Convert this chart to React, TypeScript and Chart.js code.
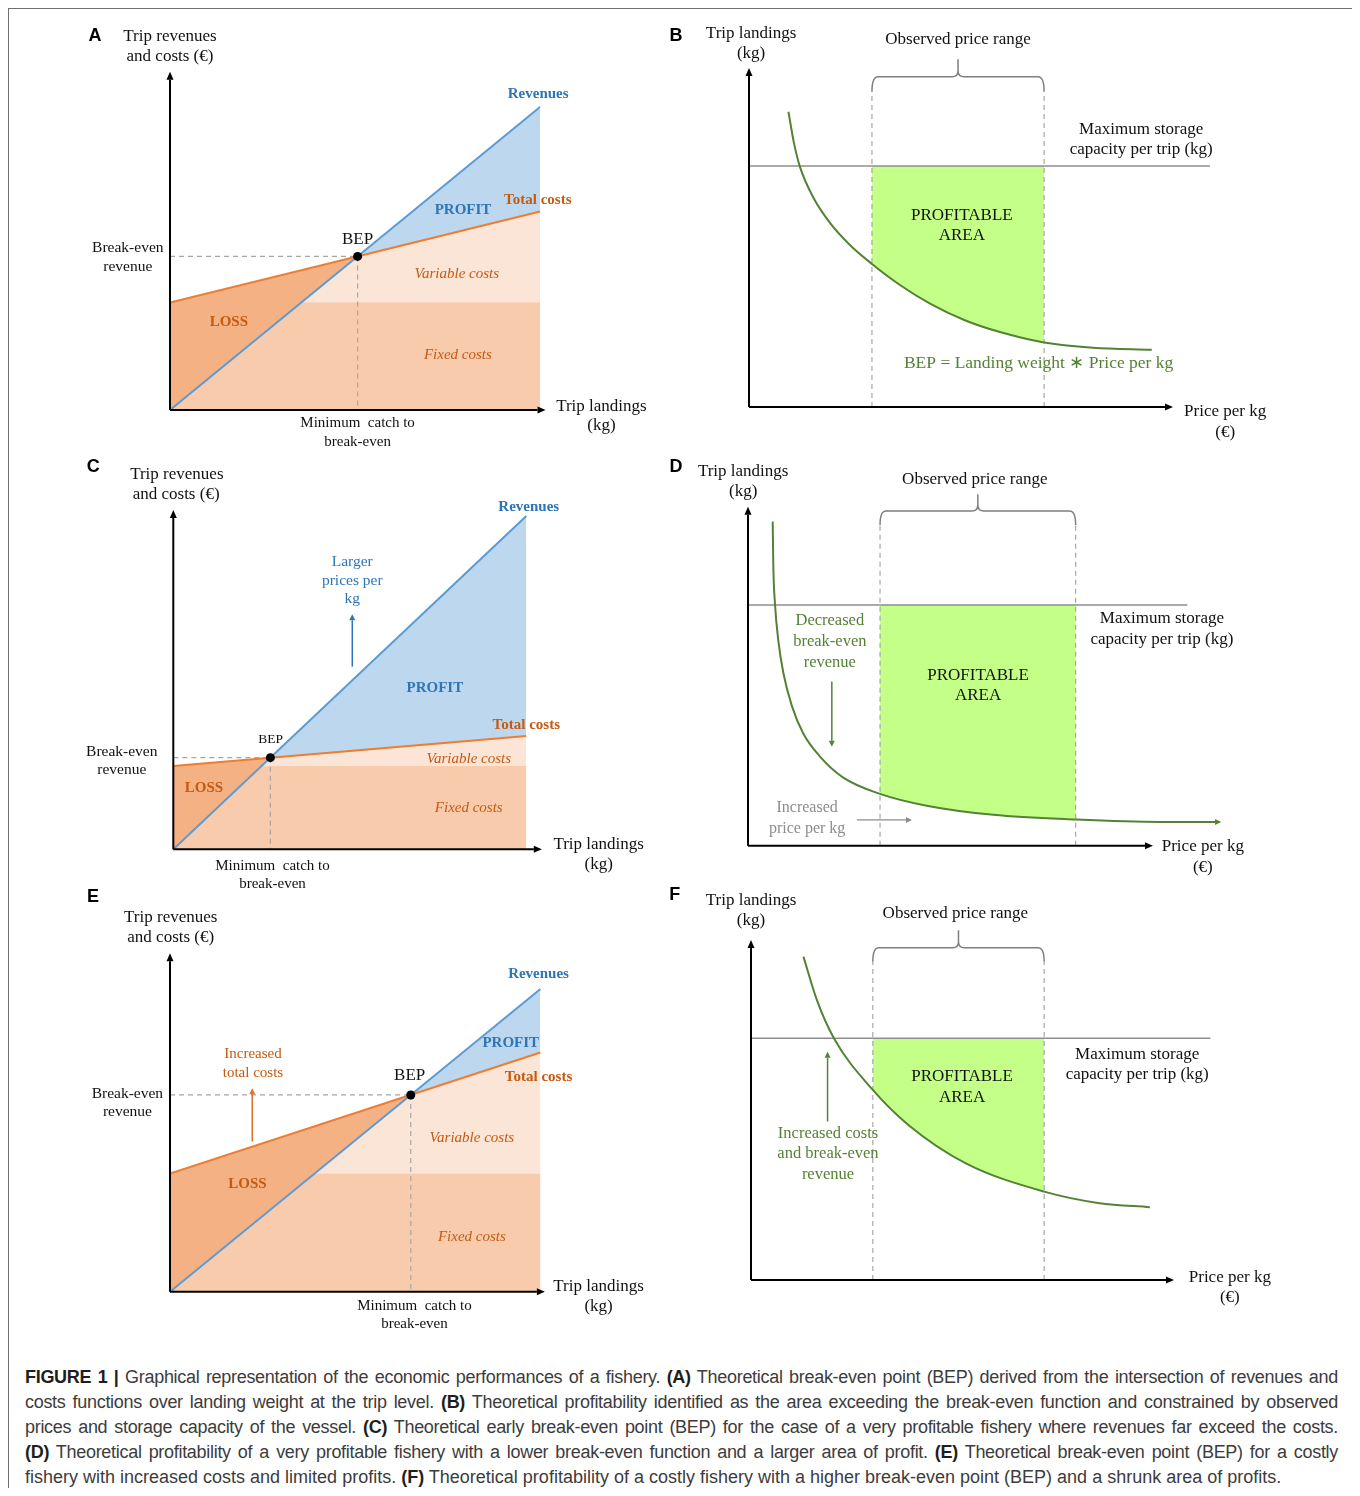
import React, { useEffect, useRef } from "react";
import { Chart, registerables } from "chart.js";

Chart.register(...registerables);

const SERIF = '"Liberation Serif", "Times New Roman", serif';
const SANS = '"Liberation Sans", Arial, Helvetica, sans-serif';

const C_REV = "#5B9BD5";
const C_COST = "#ED7D31";
const C_PROFIT = "#BDD7EE";
const C_LOSS = "#F4B183";
const C_FIXED = "#F8CBAD";
const C_VAR = "#FBE5D6";
const T_BLUE = "#2E75B6";
const T_ORANGE = "#C55A11";
const C_GREEN = "#548235";
const C_AREA = "#C4FF88";
const C_DASH = "#A6A6A6";
const C_STORAGE = "#8E8E8E";
const C_TEXT = "#111111";

// ---------- Break-even panels (A, C, E): x = trip landings, y = revenues / costs ----------
const landingEnds = [0, 100];

const revenuesA = [0, 100];
const totalCostsA = [35.5, 65.5];
const fixedCostsA = [35.5, 35.5];
const bepA = [50.7, 50.7];

const revenuesC = [0, 100];
const totalCostsC = [25, 34];
const fixedCostsC = [25, 25];
const bepC = [27.5, 27.5];

const revenuesE = [0, 100];
const totalCostsE = [39, 79];
const fixedCostsE = [39, 39];
const bepE = [65, 65];

// ---------- Profitability panels (B, D, F): x = price per kg, y = trip landings ----------
const priceB = [0.93, 1.06, 1.2, 1.52, 1.91, 2.38, 2.9, 3.56, 4.27, 5.09, 5.92, 6.93, 8.11, 9.5];
const breakEvenB = [8.71, 7.79, 7.09, 6.17, 5.43, 4.78, 4.22, 3.6, 3.05, 2.56, 2.21, 1.91, 1.75, 1.69];
const observedB = [2.9, 6.96];
const storageB = 7.11;
const storageEndB = 10.87;

const priceD = [0.61, 0.625, 0.667, 0.748, 0.872, 1.079, 1.365, 1.778, 2.353, 3.259, 4.412, 6.057, 8.099, 10.17, 11.65];
const breakEvenD = [9.56, 8.26, 7.12, 6.06, 5.1, 4.14, 3.31, 2.63, 2.01, 1.53, 1.18, 0.91, 0.77, 0.7, 0.7];
const observedD = [3.26, 8.09];
const storageD = 7.1;
const storageEndD = 10.85;

const priceF = [1.24, 1.55, 1.96, 2.88, 3.72, 5.08, 6.93, 8.24, 9.43];
const breakEvenF = [9.51, 8.26, 7.11, 5.59, 4.56, 3.43, 2.6, 2.26, 2.14];
const observedF = [2.88, 6.93];
const storageF = 7.11;
const storageEndF = 10.86;

// ---------- Layout (page pixels) ----------
const GEO: Record<string, any> = {
  A: { box: [20, 12, 640, 443], origin: [170, 410], unit: [3.7, 3.03], max: [115, 112] },
  B: { box: [662, 12, 680, 443], origin: [749, 407], unit: [42.4, 33.9], max: [11.5, 10.5] },
  C: { box: [20, 455, 640, 440], origin: [173.3, 849.3], unit: [3.53, 3.333], max: [110, 105] },
  D: { box: [662, 455, 680, 432], origin: [748, 845.7], unit: [40.5, 33.9], max: [12, 10.5] },
  E: { box: [20, 885, 640, 460], origin: [170, 1291.7], unit: [3.704, 3.027], max: [110, 115] },
  F: { box: [662, 887, 680, 458], origin: [751, 1280], unit: [42.3, 34], max: [11.5, 10.5] },
};

const STY: Record<string, any> = {
  letter: { size: 18, weight: "bold", family: SANS, color: "#000" },
  axis: { size: 17, color: C_TEXT },
  side: { size: 15.5, color: C_TEXT },
  under: { size: 15, color: C_TEXT },
  bep: { size: 17, color: C_TEXT },
  bepSmall: { size: 13.5, color: C_TEXT },
  blueBold: { size: 15, weight: "bold", color: T_BLUE },
  orangeBold: { size: 15, weight: "bold", color: T_ORANGE },
  part: { size: 15, style: "italic", color: T_ORANGE },
  noteBlue: { size: 15.5, color: T_BLUE },
  noteOrange: { size: 15, color: T_ORANGE },
  area: { size: 17, color: C_TEXT },
  green: { size: 16.5, color: C_GREEN },
  bepEq: { size: 17.5, color: C_GREEN },
  gray: { size: 16, color: "#8C8C8C" },
};

const L = (t: string, x: number, y: number, s: string) => ({ t, x, y, s });
const pts = (xs: number[], ys: number[]) => xs.map((x, i) => ({ x, y: ys[i] }));

function costDatasets(rev: number[], total: number[], fixed: number[], bep: number[]) {
  return [
    {
      data: pts(landingEnds, rev),
      borderColor: C_REV,
      borderWidth: 2,
      fill: { target: 2, above: C_PROFIT, below: C_LOSS },
      order: 1,
    },
    {
      data: pts(landingEnds, fixed),
      borderColor: "rgba(0,0,0,0)",
      borderWidth: 1,
      backgroundColor: C_FIXED,
      fill: "origin",
      order: 2,
    },
    {
      data: pts(landingEnds, total),
      borderColor: C_COST,
      borderWidth: 2,
      backgroundColor: C_VAR,
      fill: "origin",
      order: 3,
    },
    {
      data: [{ x: 0, y: bep[1] }, { x: bep[0], y: bep[1] }],
      borderColor: C_DASH,
      borderWidth: 1.2,
      borderDash: [5, 4],
      order: 4,
    },
    {
      data: [{ x: bep[0], y: bep[1] }, { x: bep[0], y: 0 }],
      borderColor: C_DASH,
      borderWidth: 1.2,
      borderDash: [5, 4],
      order: 4,
    },
    {
      data: [{ x: bep[0], y: bep[1] }],
      showLine: false,
      pointRadius: 4.5,
      pointBackgroundColor: "#000",
      pointBorderColor: "#000",
      pointBorderWidth: 0,
      order: 0,
    },
  ];
}

function priceDatasets(px: number[], py: number[], storage: number, storageEnd: number, observed: number[], top: number) {
  return [
    {
      data: pts(px, py),
      borderColor: C_GREEN,
      borderWidth: 2,
      cubicInterpolationMode: "monotone",
      order: 1,
    },
    {
      data: [{ x: 0, y: storage }, { x: storageEnd, y: storage }],
      borderColor: C_STORAGE,
      borderWidth: 1.5,
      order: 2,
    },
    {
      data: [{ x: observed[0], y: 0 }, { x: observed[0], y: top }],
      borderColor: C_DASH,
      borderWidth: 1.2,
      borderDash: [5, 4],
      order: 3,
    },
    {
      data: [{ x: observed[1], y: 0 }, { x: observed[1], y: top }],
      borderColor: C_DASH,
      borderWidth: 1.2,
      borderDash: [5, 4],
      order: 3,
    },
  ];
}

const PANELS: any[] = [
  {
    id: "A",
    datasets: costDatasets(revenuesA, totalCostsA, fixedCostsA, bepA),
    axes: { x: 101.5, y: 111.6 },
    arrows: [],
    labels: [
      L("A", -20.3, 123.4, "letter"),
      L("Trip revenues", 0, 123.4, "axis"),
      L("and costs (€)", 0, 116.8, "axis"),
      L("Revenues", 99.5, 104.3, "blueBold"),
      L("Total costs", 99.4, 69.3, "orangeBold"),
      L("PROFIT", 79.2, 66, "blueBold"),
      L("BEP", 50.7, 56.3, "bep"),
      L("Break-even", -11.4, 53.4, "side"),
      L("revenue", -11.4, 47.3, "side"),
      L("Variable costs", 77.5, 44.8, "part"),
      L("LOSS", 15.9, 28.9, "orangeBold"),
      L("Fixed costs", 77.8, 18.2, "part"),
      L("Minimum  catch to", 50.7, -4.4, "under"),
      L("break-even", 50.7, -10.5, "under"),
      L("Trip landings", 116.6, 1.3, "axis"),
      L("(kg)", 116.6, -5, "axis"),
    ],
  },
  {
    id: "B",
    datasets: priceDatasets(priceB, breakEvenB, storageB, storageEndB, observedB, 9.3),
    axes: { x: 10, y: 10 },
    area: { from: observedB[0], to: observedB[1], top: storageB },
    bracket: { x1: observedB[0], x2: observedB[1], yH: 9.74, yEnd: 9.3, yTip: 10.26 },
    arrows: [],
    labels: [
      L("B", -1.72, 10.94, "letter"),
      L("Trip landings", 0.05, 11.03, "axis"),
      L("(kg)", 0.05, 10.44, "axis"),
      L("Observed price range", 4.93, 10.83, "axis"),
      L("Maximum storage", 9.25, 8.19, "axis"),
      L("capacity per trip (kg)", 9.25, 7.6, "axis"),
      L("PROFITABLE", 5.02, 5.66, "area"),
      L("AREA", 5.02, 5.07, "area"),
      L("BEP = Landing weight \u2217 Price per kg", 6.83, 1.29, "bepEq"),
      L("Price per kg", 11.23, -0.12, "axis"),
      L("(€)", 11.23, -0.74, "axis"),
    ],
  },
  {
    id: "C",
    datasets: costDatasets(revenuesC, totalCostsC, fixedCostsC, bepC),
    axes: { x: 104.4, y: 101.8 },
    arrows: [{ x1: 50.7, y1: 54.8, x2: 50.7, y2: 70.5, color: T_BLUE, w: 1.5 }],
    labels: [
      L("C", -22.7, 114.7, "letter"),
      L("Trip revenues", 1.0, 112.3, "axis"),
      L("and costs (€)", 0.8, 106.3, "axis"),
      L("Revenues", 100.7, 102.8, "blueBold"),
      L("Larger", 50.7, 86.1, "noteBlue"),
      L("prices per", 50.7, 80.5, "noteBlue"),
      L("kg", 50.7, 75.1, "noteBlue"),
      L("PROFIT", 74.1, 48.3, "blueBold"),
      L("Total costs", 100, 37.3, "orangeBold"),
      L("BEP", 27.6, 33.1, "bepSmall"),
      L("Break-even", -14.6, 29.3, "side"),
      L("revenue", -14.6, 23.8, "side"),
      L("Variable costs", 83.7, 27, "part"),
      L("LOSS", 8.7, 18.3, "orangeBold"),
      L("Fixed costs", 83.7, 12.3, "part"),
      L("Trip landings", 120.5, 1.5, "axis"),
      L("(kg)", 120.5, -4.5, "axis"),
      L("Minimum  catch to", 28.1, -4.9, "under"),
      L("break-even", 28.1, -10.4, "under"),
    ],
  },
  {
    id: "D",
    datasets: priceDatasets(priceD, breakEvenD, storageD, storageEndD, observedD, 9.46),
    axes: { x: 10, y: 10 },
    area: { from: observedD[0], to: observedD[1], top: storageD },
    bracket: { x1: observedD[0], x2: observedD[1], yH: 9.87, yEnd: 9.46, yTip: 10.37 },
    arrows: [
      { x1: 2.07, y1: 4.84, x2: 2.07, y2: 2.92, color: C_GREEN, w: 1.5 },
      { x1: 2.69, y1: 0.76, x2: 4.05, y2: 0.76, color: "#8C8C8C", w: 1.2 },
      { x1: 11.4, y1: 0.7, x2: 11.68, y2: 0.7, color: C_GREEN, w: 2 },
    ],
    labels: [
      L("D", -1.78, 11.17, "letter"),
      L("Trip landings", -0.12, 11.05, "axis"),
      L("(kg)", -0.12, 10.46, "axis"),
      L("Observed price range", 5.6, 10.79, "axis"),
      L("Maximum storage", 10.22, 6.69, "axis"),
      L("capacity per trip (kg)", 10.22, 6.07, "axis"),
      L("PROFITABLE", 5.68, 5.01, "area"),
      L("AREA", 5.68, 4.42, "area"),
      L("Decreased", 2.02, 6.63, "green"),
      L("break-even", 2.02, 6.01, "green"),
      L("revenue", 2.02, 5.39, "green"),
      L("Increased", 1.46, 1.11, "gray"),
      L("price per kg", 1.46, 0.49, "gray"),
      L("Price per kg", 11.23, -0.01, "axis"),
      L("(€)", 11.23, -0.63, "axis"),
    ],
  },
  {
    id: "E",
    datasets: costDatasets(revenuesE, totalCostsE, fixedCostsE, bepE),
    axes: { x: 101.2, y: 111.8 },
    arrows: [{ x1: 22.2, y1: 49.6, x2: 22.2, y2: 67.2, color: "#E0702A", w: 1.5 }],
    labels: [
      L("E", -20.8, 130.5, "letter"),
      L("Trip revenues", 0.2, 123.7, "axis"),
      L("and costs (€)", 0.2, 116.9, "axis"),
      L("Revenues", 99.5, 104.9, "blueBold"),
      L("PROFIT", 92, 82.1, "blueBold"),
      L("Increased", 22.4, 78.4, "noteOrange"),
      L("total costs", 22.4, 72.3, "noteOrange"),
      L("BEP", 64.7, 71.4, "bep"),
      L("Total costs", 99.5, 71, "orangeBold"),
      L("Break-even", -11.5, 65.5, "side"),
      L("revenue", -11.5, 59.5, "side"),
      L("Variable costs", 81.5, 50.9, "part"),
      L("LOSS", 20.9, 35.5, "orangeBold"),
      L("Fixed costs", 81.5, 18, "part"),
      L("Trip landings", 115.7, 1.7, "axis"),
      L("(kg)", 115.7, -5, "axis"),
      L("Minimum  catch to", 66, -4.6, "under"),
      L("break-even", 66, -10.7, "under"),
    ],
  },
  {
    id: "F",
    datasets: priceDatasets(priceF, breakEvenF, storageF, storageEndF, observedF, 9.36),
    axes: { x: 10, y: 10 },
    area: { from: observedF[0], to: observedF[1], top: storageF },
    bracket: { x1: observedF[0], x2: observedF[1], yH: 9.77, yEnd: 9.36, yTip: 10.29 },
    arrows: [{ x1: 1.81, y1: 4.66, x2: 1.81, y2: 6.71, color: C_GREEN, w: 1.5 }],
    labels: [
      L("F", -1.8, 11.32, "letter"),
      L("Trip landings", 0, 11.15, "axis"),
      L("(kg)", 0, 10.56, "axis"),
      L("Observed price range", 4.83, 10.79, "axis"),
      L("Maximum storage", 9.13, 6.62, "axis"),
      L("capacity per trip (kg)", 9.13, 6.03, "axis"),
      L("PROFITABLE", 4.99, 5.97, "area"),
      L("AREA", 4.99, 5.38, "area"),
      L("Increased costs", 1.82, 4.29, "green"),
      L("and break-even", 1.82, 3.71, "green"),
      L("revenue", 1.82, 3.09, "green"),
      L("Price per kg", 11.32, 0.06, "axis"),
      L("(€)", 11.32, -0.53, "axis"),
    ],
  },
];

const CAPTION = [
  "**FIGURE 1 |** Graphical representation of the economic performances of a fishery. **(A)** Theoretical break-even point (BEP) derived from the intersection of revenues and",
  "costs functions over landing weight at the trip level. **(B)** Theoretical profitability identified as the area exceeding the break-even function and constrained by observed",
  "prices and storage capacity of the vessel. **(C)** Theoretical early break-even point (BEP) for the case of a very profitable fishery where revenues far exceed the costs.",
  "**(D)** Theoretical profitability of a very profitable fishery with a lower break-even function and a larger area of profit. **(E)** Theoretical break-even point (BEP) for a costly",
  "fishery with increased costs and limited profits. **(F)** Theoretical profitability of a costly fishery with a higher break-even point (BEP) and a shrunk area of profits.",
];

function drawArrow(ctx: CanvasRenderingContext2D, x1: number, y1: number, x2: number, y2: number, color: string, w: number, len: number, half: number) {
  const ang = Math.atan2(y2 - y1, x2 - x1);
  const bx = x2 - len * Math.cos(ang);
  const by = y2 - len * Math.sin(ang);
  ctx.strokeStyle = color;
  ctx.lineWidth = w;
  ctx.setLineDash([]);
  ctx.beginPath();
  ctx.moveTo(x1, y1);
  ctx.lineTo(bx, by);
  ctx.stroke();
  ctx.fillStyle = color;
  ctx.beginPath();
  ctx.moveTo(x2, y2);
  ctx.lineTo(bx + half * Math.sin(ang), by - half * Math.cos(ang));
  ctx.lineTo(bx - half * Math.sin(ang), by + half * Math.cos(ang));
  ctx.closePath();
  ctx.fill();
}

function makePlugin(p: any) {
  return {
    id: "deco" + p.id,
    beforeDatasetsDraw(chart: any) {
      if (!p.area) return;
      const meta = chart.getDatasetMeta(0);
      const line = meta && meta.dataset;
      if (!line || !line.points || !line.points.length) return;
      const ctx = chart.ctx;
      const xs = chart.scales.x;
      const ys = chart.scales.y;
      if (line.updateControlPoints) line.updateControlPoints(chart.chartArea, "x");
      const xl = xs.getPixelForValue(p.area.from);
      const xr = xs.getPixelForValue(p.area.to);
      const yt = ys.getPixelForValue(p.area.top);
      const yb = ys.getPixelForValue(0);
      ctx.save();
      ctx.beginPath();
      ctx.rect(xl, yt, xr - xl, yb - yt);
      ctx.clip();
      ctx.beginPath();
      const ptsArr = line.points;
      if (typeof line.path === "function") {
        line.path(ctx);
      } else {
        ctx.moveTo(ptsArr[0].x, ptsArr[0].y);
        for (let i = 1; i < ptsArr.length; i++) ctx.lineTo(ptsArr[i].x, ptsArr[i].y);
      }
      ctx.lineTo(ptsArr[ptsArr.length - 1].x, yt);
      ctx.lineTo(ptsArr[0].x, yt);
      ctx.closePath();
      ctx.fillStyle = C_AREA;
      ctx.fill();
      ctx.restore();
    },
    afterDatasetsDraw(chart: any) {
      const ctx: CanvasRenderingContext2D = chart.ctx;
      const xs = chart.scales.x;
      const ys = chart.scales.y;
      const X = (v: number) => xs.getPixelForValue(v);
      const Y = (v: number) => ys.getPixelForValue(v);
      ctx.save();
      ctx.lineCap = "butt";

      if (p.bracket) {
        const b = p.bracket;
        const a = X(b.x1);
        const c = X(b.x2);
        const m = (a + c) / 2;
        const h = Y(b.yH);
        const e = Y(b.yEnd);
        const tip = Y(b.yTip);
        const r = 6;
        ctx.strokeStyle = "#7F7F7F";
        ctx.lineWidth = 1.5;
        ctx.setLineDash([]);
        ctx.beginPath();
        ctx.moveTo(a, e);
        ctx.quadraticCurveTo(a, h, a + r, h);
        ctx.lineTo(m - r, h);
        ctx.quadraticCurveTo(m, h, m, h - r);
        ctx.lineTo(m, tip);
        ctx.moveTo(m, h - r);
        ctx.quadraticCurveTo(m, h, m + r, h);
        ctx.lineTo(c - r, h);
        ctx.quadraticCurveTo(c, h, c, e);
        ctx.stroke();
      }

      // axes with arrow heads
      drawArrow(ctx, X(0), Y(0), X(p.axes.x), Y(0), "#000", 2, 8, 3.5);
      drawArrow(ctx, X(0), Y(0), X(0), Y(p.axes.y), "#000", 2, 8, 3.5);

      for (const ar of p.arrows) {
        drawArrow(ctx, X(ar.x1), Y(ar.y1), X(ar.x2), Y(ar.y2), ar.color, ar.w, 6, 3);
      }

      ctx.textAlign = "center";
      ctx.textBaseline = "middle";
      for (const lb of p.labels) {
        const s = STY[lb.s];
        ctx.font = `${s.style || "normal"} ${s.weight || "normal"} ${s.size}px ${s.family || SERIF}`;
        ctx.fillStyle = s.color;
        ctx.fillText(lb.t, X(lb.x), Y(lb.y));
      }
      ctx.restore();
    },
  };
}

function Panel({ p }: { p: any }) {
  const ref = useRef<HTMLCanvasElement>(null);
  const g = GEO[p.id];
  const [bx, by, bw, bh] = g.box;
  useEffect(() => {
    if (!ref.current) return;
    const [ox, oy] = g.origin;
    const [ux, uy] = g.unit;
    const [mx, my] = g.max;
    const padding = {
      left: ox - bx,
      top: oy - uy * my - by,
      right: bx + bw - (ox + ux * mx),
      bottom: by + bh - oy,
    };
    const chart = new Chart(ref.current, {
      type: "line",
      data: { datasets: p.datasets },
      options: {
        animation: false,
        responsive: false,
        maintainAspectRatio: false,
        events: [],
        layout: { padding },
        elements: { point: { radius: 0, hoverRadius: 0 }, line: { tension: 0 } },
        scales: {
          x: { type: "linear", min: 0, max: mx, display: false },
          y: { type: "linear", min: 0, max: my, display: false },
        },
        plugins: {
          legend: { display: false },
          tooltip: { enabled: false },
          filler: { drawTime: "beforeDatasetsDraw" },
        },
      } as any,
      plugins: [makePlugin(p)],
    } as any);
    return () => chart.destroy();
  }, []);
  return (
    <canvas
      ref={ref}
      width={bw}
      height={bh}
      style={{ position: "absolute", left: bx - 9, top: by - 9, width: bw, height: bh }}
    />
  );
}

function CaptionLine({ text, last }: { text: string; last: boolean }) {
  const parts = text.split(/(\*\*[^*]+\*\*)/).filter((s) => s.length > 0);
  const style: any = last
    ? { textAlign: "left", whiteSpace: "nowrap" }
    : { textAlign: "justify", textAlignLast: "justify", letterSpacing: "-0.3px" };
  return (
    <div style={style}>
      {parts.map((s, i) =>
        s.startsWith("**") ? (
          <b key={i} style={{ color: "#1e1e1e" }}>
            {s.slice(2, -2)}
          </b>
        ) : (
          <span key={i}>{s}</span>
        )
      )}
    </div>
  );
}

export default function App() {
  return (
    <div
      style={{
        position: "relative",
        width: 1346,
        height: 1479,
        border: "1px solid #6f6f6f",
        borderBottom: "none",
        background: "#fff",
        overflow: "hidden",
      }}
    >
      {PANELS.map((p) => (
        <Panel key={p.id} p={p} />
      ))}
      <div
        style={{
          position: "absolute",
          left: 16,
          top: 1356,
          width: 1313,
          fontFamily: SANS,
          fontSize: 18,
          lineHeight: "25px",
          color: "#3c3c3c",
        }}
      >
        {CAPTION.map((line, i) => (
          <CaptionLine key={i} text={line} last={i === CAPTION.length - 1} />
        ))}
      </div>
    </div>
  );
}
